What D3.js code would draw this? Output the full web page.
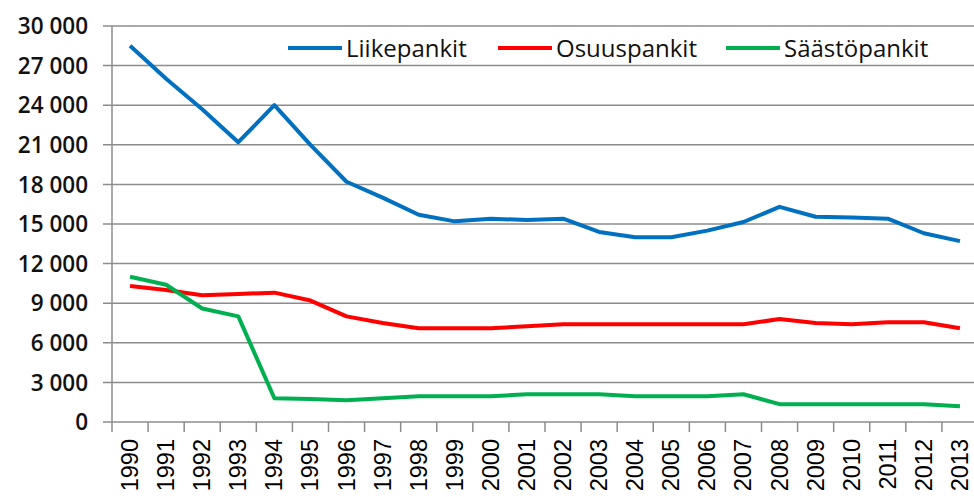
<!DOCTYPE html>
<html><head><meta charset="utf-8">
<script src="https://cdn.jsdelivr.net/npm/d3@7"></script>
<style>body{margin:0;background:#fff}svg{display:block}</style>
</head><body><svg id="c" width="974" height="497"></svg>
<script>
const years = [1990,1991,1992,1993,1994,1995,1996,1997,1998,1999,2000,2001,2002,2003,2004,2005,2006,2007,2008,2009,2010,2011,2012,2013];
const liikepankit = [28500,26000,23700,21200,24000,21000,18200,17000,15700,15200,15400,15300,15400,14400,14000,14000,14500,15150,16300,15550,15500,15400,14300,13700];
const osuuspankit = [10300,10000,9600,9700,9800,9200,8000,7500,7100,7100,7100,7250,7400,7400,7400,7400,7400,7400,7800,7500,7400,7550,7550,7100];
const saastopankit = [11000,10400,8600,8000,1800,1750,1650,1800,1950,1950,1950,2100,2100,2100,1950,1950,1950,2100,1350,1350,1350,1350,1350,1200];
const yTicks = [0,3000,6000,9000,12000,15000,18000,21000,24000,27000,30000];
const seriesNames = ["Liikepankit","Osuuspankit","Säästöpankit"];
const seriesColors = ["#0070C0","#FF0000","#00B050"];
const seriesData = [liikepankit, osuuspankit, saastopankit];

const svg = d3.select("#c");
const x = d3.scaleBand().domain(years).range([112, 978]);
const y = d3.scaleLinear().domain([0, 30000]).range([422, 26]);
const loc = d3.formatLocale({decimal:",", thousands:" ", grouping:[3], currency:["",""]});
const fmt = loc.format(",d");

const g = svg.append("g");
g.selectAll("line.grid").data(yTicks).join("line")
  .attr("x1", 103).attr("x2", 980)
  .attr("y1", d => y(d)).attr("y2", d => y(d))
  .attr("stroke", "#8c8c8c").attr("stroke-width", 1.5);
g.selectAll("text.yl").data(yTicks).join("text")
  .attr("x", 88).attr("y", d => y(d)).attr("dy", "0.36em")
  .attr("text-anchor", "end")
  .attr("font-family", "Open Sans").attr("font-weight", 600).attr("font-size", 22.5)
  .attr("fill", "#111").text(d => fmt(d));
g.append("line").attr("x1", 112).attr("x2", 112).attr("y1", y(30000)).attr("y2", y(0))
  .attr("stroke", "#8c8c8c").attr("stroke-width", 1.5);
const bounds = years.map(d => x(d)).concat([x(years[years.length-1]) + x.bandwidth()]);
g.selectAll("line.xt").data(bounds).join("line")
  .attr("x1", d => d).attr("x2", d => d).attr("y1", 422).attr("y2", 432)
  .attr("stroke", "#8c8c8c").attr("stroke-width", 1.5);
g.selectAll("text.xl").data(years).join("text")
  .attr("transform", d => `translate(${x(d) + x.bandwidth()/2 + 8},439) rotate(-90)`)
  .attr("text-anchor", "end")
  .attr("font-family", "Liberation Sans").attr("font-size", 23.5)
  .attr("fill", "#000").text(d => d);

const line = d3.line().x((d,i) => x(years[i]) + x.bandwidth()/2).y(d => y(d));
svg.selectAll("path.s").data(seriesData).join("path")
  .attr("d", d => line(d)).attr("fill", "none")
  .attr("stroke", (d,i) => seriesColors[i]).attr("stroke-width", 4)
  .attr("stroke-linejoin", "round");

const legX = [288, 498, 726];
const lg = svg.append("g");
seriesNames.forEach((n,i) => {
  lg.append("line").attr("x1", legX[i]).attr("x2", legX[i] + 54).attr("y1", 48).attr("y2", 48)
    .attr("stroke", seriesColors[i]).attr("stroke-width", 4);
  lg.append("text").attr("x", legX[i] + 58).attr("y", 48).attr("dy", "0.36em")
    .attr("font-family", "Open Sans").attr("font-size", 24).attr("fill", "#111").text(n);
});
</script></body></html>
